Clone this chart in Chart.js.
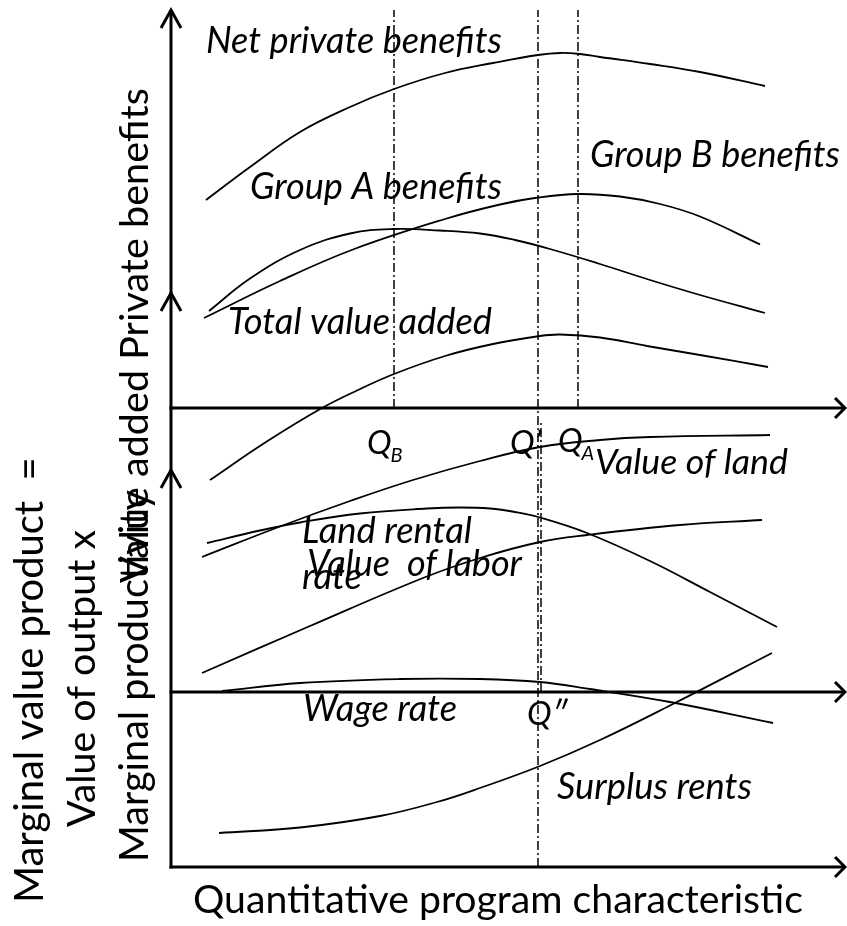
<!DOCTYPE html>
<html><head><meta charset="utf-8">
<script src="https://cdn.jsdelivr.net/npm/chart.js@4.4.1/dist/chart.umd.min.js"></script>
<style>html,body{margin:0;padding:0;background:#fff;overflow:hidden}canvas{display:block}</style>
</head><body>
<canvas id="c" width="847" height="926"></canvas>
<script>
// Units: x = quantitative program characteristic (0 at the vertical axis);
// y = common vertical value scale (0 at the bottom axis).
const netPrivateBenefits = [[3.5,66.7],[7.9,70.0],[12.9,73.5],[17.9,76.0],[22.3,77.8],[27.4,79.4],[32.2,80.4],[36.7,81.2],[38.9,81.4],[40.9,81.3],[42.9,81.0],[47.9,80.3],[52.9,79.5],[59.4,78.1]];
const groupBBenefits     = [[3.8,55.6],[7.9,58.85],[12.9,61.7],[17.9,63.35],[22.2,63.8],[26.9,63.65],[30.9,63.35],[34.4,62.7],[37.9,61.8],[42.9,60.3],[47.9,58.7],[52.9,57.2],[59.4,55.4]];
const groupABenefits     = [[3.3,54.9],[10.9,58.6],[18.2,61.75],[27.4,64.8],[32.9,66.25],[36.7,66.95],[40.7,67.3],[44.9,67.05],[48.9,66.3],[52.9,65.05],[58.9,62.26]];
const totalValueAdded    = [[3.9,38.7],[9.5,42.5],[15.1,45.9],[18.7,47.7],[22.3,49.3],[27.4,51.1],[32.2,52.3],[36.9,53.1],[38.9,53.25],[42.9,52.95],[47.6,52.1],[52.9,51.2],[59.7,50.0]];
const valueOfLand        = [[3.1,31.0],[10.9,34.05],[17.9,36.6],[24.2,38.7],[30.9,40.6],[36.9,42.0],[42.9,42.7],[47.9,43.0],[59.9,43.2]];
const landRentalRate     = [[3.6,32.4],[8.9,33.65],[12.9,34.45],[18.9,35.35],[25.6,35.85],[28.9,35.95],[31.9,35.85],[34.4,35.5],[36.9,34.95],[41.6,33.4],[47.9,30.6],[53.9,27.5],[60.6,24.0]];
const valueOfLabor       = [[3.1,19.4],[13.9,24.1],[25.2,28.9],[30.9,30.9],[36.9,32.5],[41.6,33.2],[50.9,34.2],[59.1,34.7]];
const wageRate           = [[5.1,17.6],[12.9,18.4],[22.9,18.8],[30.9,18.8],[36.9,18.5],[41.9,17.8],[49.9,16.5],[60.2,14.4]];
const surplusRents       = [[4.8,3.4],[12.9,3.95],[20.9,5.1],[26.6,6.5],[30.9,7.9],[36.9,10.1],[42.9,12.7],[49.9,16.15],[60.1,21.4]];

// Reference quantities (x) and the vertical extent of their guide lines
const qNames  = ['QB', "Q'", 'QA', "Q''"];
const qValues = [22.3, 36.7, 40.7, 37.0];
const qFrom   = [45.9, 0, 45.9, 17.5];
const qTo     = [85.7, 85.7, 85.7, 44.5];

// Panel axes: horizontal baselines and vertical axis tops
const axisBases = [45.9, 17.5, 0];
const axisTops  = [85.7, 57.4, 39.7];
const xAxisEnd  = 67.4;

const toXY = a => a.map(p => ({x:p[0], y:p[1]}));
const curve = (label, arr) => ({label, data: toXY(arr), borderColor:'#000', borderWidth:1.8, pointRadius:0, fill:false, tension:0.4, clip:false});

const datasets = [
  curve('Net private benefits', netPrivateBenefits),
  curve('Group B benefits', groupBBenefits),
  curve('Group A benefits', groupABenefits),
  curve('Total value added', totalValueAdded),
  curve('Value of land', valueOfLand),
  curve('Land rental rate', landRentalRate),
  curve('Value of labor', valueOfLabor),
  curve('Wage rate', wageRate),
  curve('Surplus rents', surplusRents)
];
qNames.forEach((n,i) => datasets.push({label:n, data:[{x:qValues[i], y:qFrom[i]},{x:qValues[i], y:qTo[i]}], borderColor:'#000', borderWidth:1.5, borderDash:[9,3,2,3], pointRadius:0, fill:false, tension:0, clip:false}));

const FAM = 'Lato, "Open Sans", sans-serif';
function fitFont(ctx, text, style, w){
  ctx.font = style + ' 40px ' + FAM;
  const m = ctx.measureText(text).width;
  ctx.font = style + ' ' + (40*w/m).toFixed(2) + 'px ' + FAM;
}

const curveLabels = [
  {t:'Net private benefits', x:3.5,  y:81.4, w:296},
  {t:'Group A benefits',     x:7.9,  y:66.8, w:252},
  {t:'Group B benefits',     x:41.9, y:70.0, w:250},
  {t:'Total value added',    x:5.7,  y:53.3, w:264},
  {t:'Value of land',        x:42.4, y:39.3, w:193},
  {t:'Land rental',          x:13.1, y:32.4, w:170},
  {t:'Value  of labor',      x:13.6, y:29.1, w:215},
  {t:'rate',                 x:13.1, y:27.8, w:60},
  {t:'Wage rate',            x:13.2, y:14.6, w:154},
  {t:'Surplus rents',        x:38.6, y:6.8,  w:195}
];
const qLabels = [
  {t:'Q', sub:'B', x:19.6, y:41.3},
  {t:'Q\u2019', sub:'', x:33.9, y:41.3},
  {t:'Q', sub:'A', x:38.7, y:41.5},
  {t:'Q\u2033', sub:'', x:35.6, y:14.2}
];
const sideTitles = [
  {t:'Marginal value product  =',    bx:43,  sy:903, w:446},
  {t:'Value of output x',            bx:95,  sy:827, w:297},
  {t:'Marginal productivity',        bx:148, sy:862, w:372},
  {t:'Value added Private benefits', bx:148, sy:583, w:495}
];
const xTitle = {t:'Quantitative program characteristic', x:193, y:913, w:610};

const overlay = {
  id:'overlay',
  beforeDatasetsDraw(chart){
    const {ctx, scales:{x, y}} = chart;
    ctx.save();
    ctx.strokeStyle = '#000'; ctx.lineWidth = 3; ctx.lineJoin = 'miter'; ctx.lineCap = 'butt';
    const x0 = x.getPixelForValue(0);
    ctx.beginPath(); ctx.moveTo(x0, y.getPixelForValue(0) + 1.5); ctx.lineTo(x0, y.getPixelForValue(axisTops[0])); ctx.stroke();
    axisTops.forEach(t => {
      const py = y.getPixelForValue(t);
      ctx.beginPath(); ctx.moveTo(x0 - 10, py + 18); ctx.lineTo(x0, py); ctx.lineTo(x0 + 10, py + 18); ctx.stroke();
    });
    const xe = x.getPixelForValue(xAxisEnd);
    axisBases.forEach(b => {
      const py = y.getPixelForValue(b);
      ctx.beginPath(); ctx.moveTo(x0 - 1.5, py); ctx.lineTo(xe, py); ctx.stroke();
      ctx.beginPath(); ctx.moveTo(xe - 10, py - 10); ctx.lineTo(xe, py); ctx.lineTo(xe - 10, py + 10); ctx.stroke();
    });
    ctx.restore();
  },
  afterDatasetsDraw(chart){
    const {ctx, scales:{x, y}} = chart;
    ctx.save();
    ctx.fillStyle = '#000'; ctx.textAlign = 'left'; ctx.textBaseline = 'alphabetic';
    curveLabels.forEach(l => {
      fitFont(ctx, l.t, 'italic', l.w);
      ctx.fillText(l.t, x.getPixelForValue(l.x), y.getPixelForValue(l.y));
    });
    qLabels.forEach(l => {
      const px = x.getPixelForValue(l.x), py = y.getPixelForValue(l.y);
      ctx.font = 'italic 33px ' + FAM;
      ctx.fillText(l.t, px, py);
      if (l.sub) {
        const w = ctx.measureText(l.t).width;
        ctx.font = 'italic 20px ' + FAM;
        ctx.fillText(l.sub, px + w - 1, py + 8);
      }
    });
    sideTitles.forEach(s => {
      ctx.save();
      ctx.translate(s.bx, s.sy); ctx.rotate(-Math.PI / 2);
      fitFont(ctx, s.t, 'normal', s.w);
      ctx.fillText(s.t, 0, 0);
      ctx.restore();
    });
    fitFont(ctx, xTitle.t, 'normal', xTitle.w);
    ctx.fillText(xTitle.t, xTitle.x, xTitle.y);
    ctx.restore();
  }
};

new Chart(document.getElementById('c'), {
  type: 'line',
  data: { datasets },
  options: {
    responsive: false,
    animation: false,
    devicePixelRatio: 1,
    layout: { padding: { left: 171, right: 0, top: 0, bottom: 59 } },
    scales: {
      x: { type: 'linear', min: 0, max: 67.6, display: false },
      y: { type: 'linear', min: 0, max: 86.7, display: false }
    },
    plugins: { legend: { display: false }, tooltip: { enabled: false }, title: { display: false } }
  },
  plugins: [overlay]
});
</script>
</body></html>
